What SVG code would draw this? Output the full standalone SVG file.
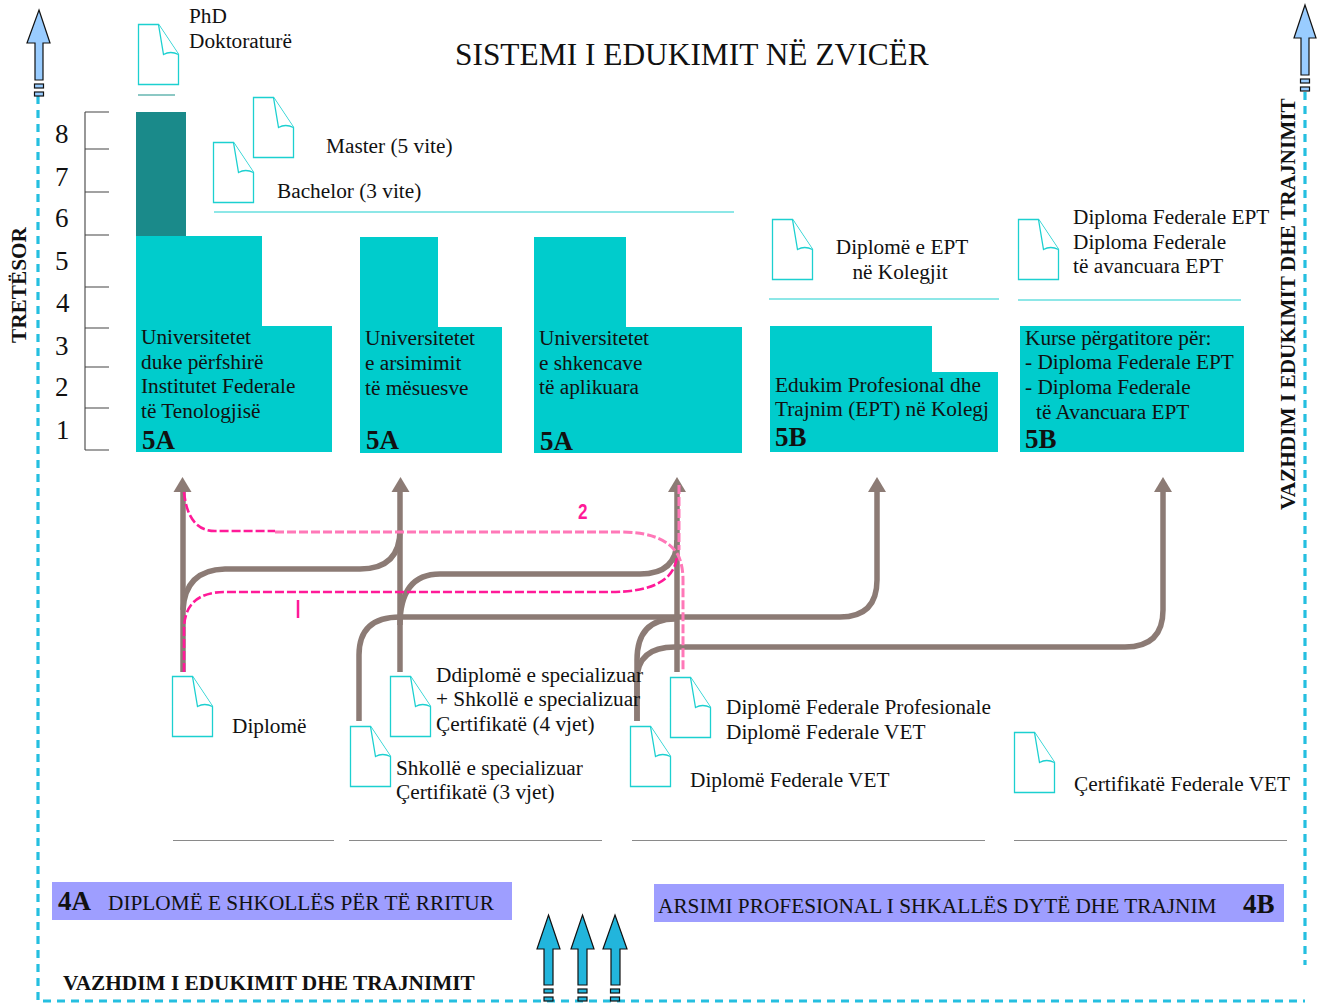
<svg xmlns="http://www.w3.org/2000/svg" width="1321" height="1003" viewBox="0 0 1321 1003">
<style>
text{font-family:"Liberation Serif","Times New Roman",serif;fill:#111;font-size:21.300px}
.b{font-weight:bold}
.n{font-size:27px}
.doc{fill:#fff;stroke:#1cd0d0;stroke-width:1.3}
.teal{fill:#00cccc}
.rule{stroke:#1ccfcf;stroke-width:1.2;fill:none}
.grey{stroke:#8a8a8a;stroke-width:1.2;fill:none}
.con{fill:none;stroke:#8c7b75;stroke-width:5.5}
.pink{fill:none;stroke:#ff1a98;stroke-width:2.6;stroke-dasharray:9 3}
.pink2{fill:none;stroke:#ff78b8;stroke-width:3;stroke-dasharray:9 3}
.dash{fill:none;stroke:#25bfe0;stroke-width:3.2;stroke-dasharray:8 6}
.up{stroke:#111;stroke-width:1.2}
.lb{fill:#99ccff}
.db{fill:#22b5dc}
.band{fill:#9e9eff}
</style>
<defs>
<g id="d"><path class="doc" d="M0.500 0.500H20.500L40.500 30.500V60.500H0.500Z"/><path class="doc" d="M20.500 0.500L25.500 30.500Q32.500 26.500 40.500 30.500"/></g>
<path id="headc" d="M-9 15L0 0L9 15Z" fill="#8c7b75"/>
<g id="tail"><rect x="-4.500" y="0" width="9" height="4"/><rect x="-4.500" y="8" width="9" height="4"/></g>
</defs>

<g id="frame">
<path class="dash" d="M38 96V1001H1305"/>
<path class="dash" d="M1305 92V965"/>
</g>

<g id="arrow-left" class="up lb"><path d="M39 10L50 43H43V80H35V43H27Z"/><use href="#tail" x="39" y="84"/></g>
<g id="arrow-right" class="up lb"><path d="M1305 5L1316 38H1309V75H1301V38H1294Z"/><use href="#tail" x="1305" y="79"/></g>
<g id="arrows-bottom" class="up db">
<path d="M548.500 915L560 949H553V985H544V949H537Z"/><use href="#tail" x="548.500" y="989"/>
<path d="M582.500 915L594 949H587V985H578V949H571Z"/><use href="#tail" x="582.500" y="989"/>
<path d="M615 915L627 949H620V985H611V949H603Z"/><use href="#tail" x="615" y="989"/>
</g>

<text id="title" x="455" y="65" style="font-size:31.400px">SISTEMI I EDUKIMIT NË ZVICËR</text>
<text class="b" transform="translate(26 343) rotate(-90)">TRETËSOR</text>
<text class="b" transform="translate(1295 510) rotate(-90)">VAZHDIM I EDUKIMIT DHE TRAJNIMIT</text>
<text class="b" x="63" y="990">VAZHDIM I EDUKIMIT DHE TRAJNIMIT</text>

<g id="scale">
<path d="M85 112V450M85 112H109M85 149H109M85 192H109M85 235H109M85 287H109M85 328H109M85 367H109M85 408H109M85 450H109" fill="none" stroke="#444" stroke-width="1.100"/>
<text class="n" x="55" y="143">8</text><text class="n" x="55" y="186">7</text><text class="n" x="55" y="227">6</text>
<text class="n" x="55" y="270">5</text><text class="n" x="56" y="312">4</text><text class="n" x="55" y="355">3</text>
<text class="n" x="55" y="396">2</text><text class="n" x="56" y="439">1</text>
</g>

<g id="connectors">
<path class="con" d="M183 672V485"/>
<path class="con" d="M400 672V485"/>
<path class="con" d="M677 672V485"/>
<path class="con" d="M183 610Q185 570 225 569H360Q400 569 400 530"/>
<path class="con" d="M400 625Q400 574 440 574H640Q677 574 677 540"/>
<path class="con" d="M359 721V655Q359 617 400 617H840Q877 617 877 580V485"/>
<path class="con" d="M637 721V660Q637 619 675 619"/>
<path class="con" d="M637 721V680Q637 647 675 647H1125Q1163 647 1163 610V485"/>
<use href="#headc" x="182.500" y="477"/><use href="#headc" x="400.500" y="477"/><use href="#headc" x="677" y="477"/><use href="#headc" x="877" y="477"/><use href="#headc" x="1163" y="477"/>
<path class="pink" d="M184 672V630Q184 592 225 592H610Q675 592 677 555"/>
<path class="pink" d="M184 492Q188 531 215 531H275"/>
<path class="pink2" d="M275 532H620Q665 532 678 555Q683 565 683 580V672"/>
<path class="pink2" d="M679 485V550"/>
<text transform="translate(578 519) scale(0.9 1.200)" style="font-family:'Liberation Sans',sans-serif;font-size:19px;font-weight:bold;fill:#ff1a98">2</text>
<path d="M298 600V618" stroke="#ff1a98" stroke-width="2.500"/>
</g>

<g id="phd"><use href="#d" x="138" y="24"/><path d="M138 95H175" stroke="#8cc8c4" stroke-width="2"/><text x="189" y="23">PhD</text><text x="189" y="48">Doktoraturë</text></g>
<g id="master"><use href="#d" x="253" y="97"/><text x="326" y="153">Master (5 vite)</text></g>
<g id="bachelor"><use href="#d" x="213" y="142"/><text x="277" y="198">Bachelor (3 vite)</text><path class="rule" d="M214 212H734"/></g>
<g id="diplome-ept"><use href="#d" x="772" y="219"/><text x="902" y="254" text-anchor="middle">Diplomë e EPT</text><text x="900" y="279" text-anchor="middle">në Kolegjit</text><path class="rule" d="M769 299H999"/></g>
<g id="diplome-fed"><use href="#d" x="1018" y="219"/><text x="1073" y="224">Diploma Federale EPT</text><text x="1073" y="249">Diploma Federale</text><text x="1073" y="273">të avancuara EPT</text><path class="rule" d="M1018 300H1241"/></g>

<g id="uni1"><rect x="136" y="112" width="50" height="124" fill="#1a8a8a"/><path class="teal" d="M136 236H262V326H332V452H136Z"/>
<text x="141" y="344">Universitetet</text><text x="141" y="369">duke përfshirë</text><text x="141" y="393">Institutet Federale</text><text x="141" y="418">të Tenologjisë</text><text class="b n" x="142" y="449">5A</text></g>
<g id="uni2"><path class="teal" d="M360 237H438V327H502V453H360Z"/>
<text x="365" y="345">Universitetet</text><text x="365" y="370">e arsimimit</text><text x="365" y="395">të mësuesve</text><text class="b n" x="366" y="449">5A</text></g>
<g id="uni3"><path class="teal" d="M534 237H626V327H742V453H534Z"/>
<text x="539" y="345">Universitetet</text><text x="539" y="370">e shkencave</text><text x="539" y="394">të aplikuara</text><text class="b n" x="540" y="450">5A</text></g>
<g id="ept"><path class="teal" d="M770 326H932V372H998V452H770Z"/>
<text x="775" y="392">Edukim Profesional dhe</text><text x="775" y="416">Trajnim (EPT) në Kolegj</text><text class="b n" x="775" y="446">5B</text></g>
<g id="kurse"><rect class="teal" x="1020" y="326" width="224" height="126"/>
<text x="1025" y="345">Kurse përgatitore për:</text><text x="1025" y="369">- Diploma Federale EPT</text><text x="1025" y="394">- Diploma Federale</text><text x="1036" y="419">të Avancuara EPT</text><text class="b n" x="1025" y="448">5B</text></g>

<g id="diplome"><use href="#d" x="172" y="676"/><text x="232" y="733">Diplomë</text></g>
<g id="ddiplome"><use href="#d" x="390" y="676"/><text x="436" y="682">Ddiplomë e specializuar</text><text x="436" y="706">+ Shkollë e specializuar</text><text x="436" y="731">Çertifikatë (4 vjet)</text></g>
<g id="shkolle"><use href="#d" x="350" y="726"/><text x="396" y="775">Shkollë e specializuar</text><text x="396" y="799">Çertifikatë (3 vjet)</text></g>
<g id="dfp"><use href="#d" x="670" y="677"/><text x="726" y="714">Diplomë Federale Profesionale</text><text x="726" y="739">Diplomë Federale VET</text></g>
<g id="dfv"><use href="#d" x="630" y="726"/><text x="690" y="787">Diplomë Federale VET</text></g>
<g id="cfv"><use href="#d" x="1014" y="732"/><text x="1074" y="791">Çertifikatë Federale VET</text></g>

<g id="lines"><path class="grey" d="M173 840.500H334M349 840.500H602M632 840.500H985M1014 840.500H1287"/></g>

<g id="band-4a"><rect class="band" x="52" y="882" width="460" height="38"/><text class="b n" x="58" y="910">4A</text><text x="108" y="910">DIPLOMË E SHKOLLËS PËR TË RRITUR</text></g>
<g id="band-4b"><rect class="band" x="654" y="884" width="630" height="38"/><text x="658" y="913">ARSIMI PROFESIONAL I SHKALLËS DYTË DHE TRAJNIM</text><text class="b n" x="1243" y="913">4B</text></g>
</svg>
